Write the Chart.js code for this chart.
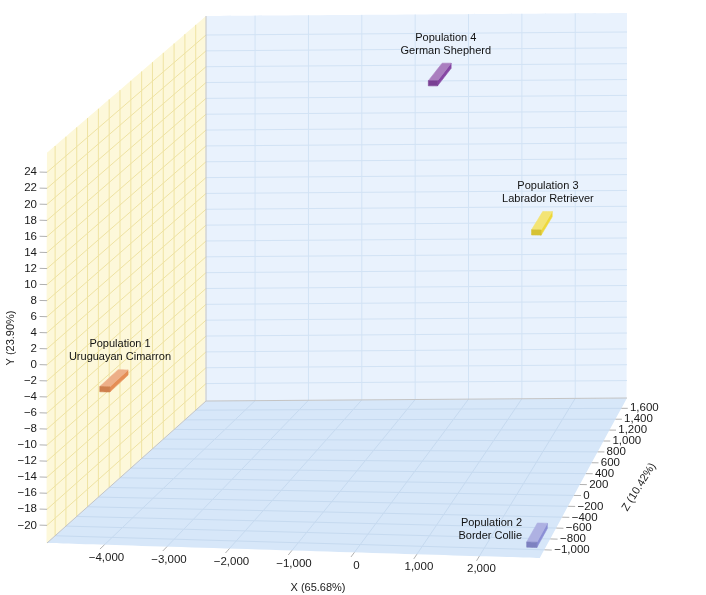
<!DOCTYPE html>
<html lang="en">
<head>
<meta charset="UTF-8">
<title>Dog Populations 3D PCA</title>
<script src="https://cdn.jsdelivr.net/npm/chart.js"></script>
<style>
  html, body { margin: 0; padding: 0; background: #fff; }
  #wrap { width: 706px; height: 595px; position: relative; }
</style>
</head>
<body>
<div id="wrap"><canvas id="pcaChart"></canvas></div>
<script>
// axis ranges and ticks
const xRange = [-4920, 2970];
const yRange = [-22.2, 26.4];
const zRange = [-1150, 1790];
const xTicks = [-4000, -3000, -2000, -1000, 0, 1000, 2000];
const yTicks = [-20, -18, -16, -14, -12, -10, -8, -6, -4, -2, 0, 2, 4, 6, 8, 10, 12, 14, 16, 18, 20, 22, 24];
const zTicks = [-1000, -800, -600, -400, -200, 0, 200, 400, 600, 800, 1000, 1200, 1400, 1600];
const axisTitles = ['X (65.68%)', 'Y (23.90%)', 'Z (10.42%)'];

// populations
const popNames = ['Population 1', 'Population 2', 'Population 3', 'Population 4'];
const popBreeds = ['Uruguayan Cimarron', 'Border Collie', 'Labrador Retriever', 'German Shepherd'];
const popX = [-4300, 2752, 2252, -107];
const popY = [-5.1, -21.8, 9.6, 22.5];
const popZ = [-609, -797, 320, 1202];
const popColors = ['#e58d55', '#8b8fd5', '#eed83a', '#8646a3'];
const labelSide = ['above', 'left', 'above', 'above'];

// where the box sits on screen (floor corners + wall heights), and bar size in data units
const frame = {
  fl: [47, 543], fr: [540, 558], bl: [206, 401], br: [627, 398],
  hFl: 390, hFr: 392, hBack: 385
};
const barSize = { x: 165, y: 0.65, z: 350 };

const lerp = (a, b, t) => a + (b - a) * t;

// simple bilinear "perspective" for the box
function project(x, y, z) {
  const u = (x - xRange[0]) / (xRange[1] - xRange[0]);
  const v = (y - yRange[0]) / (yRange[1] - yRange[0]);
  const w = (z - zRange[0]) / (zRange[1] - zRange[0]);
  const fx = lerp(lerp(frame.fl[0], frame.fr[0], u), lerp(frame.bl[0], frame.br[0], u), w);
  const fy = lerp(lerp(frame.fl[1], frame.fr[1], u), lerp(frame.bl[1], frame.br[1], u), w);
  const h = lerp(lerp(frame.hFl, frame.hFr, u), frame.hBack, w);
  return { x: fx, y: fy - v * h };
}

function shade(hex, target, t) {
  const n = parseInt(hex.slice(1), 16);
  const c = [(n >> 16) & 255, (n >> 8) & 255, n & 255];
  return 'rgb(' + c.map(v => Math.round(v + (target - v) * t)).join(',') + ')';
}

const fmt = v => v.toLocaleString('en-US').replace('-', '\u2212');

const datasets = [];

function addPoly(points, color, order, edge) {
  datasets.push({
    data: points.concat([points[0]]),
    fill: 'shape',
    backgroundColor: color,
    borderColor: edge ? color : 'rgba(0,0,0,0)',
    borderWidth: edge ? 0.6 : 0,
    pointRadius: 0,
    tension: 0.0001,
    order: order
  });
}

function addLines(segs, color, order) {
  const pts = [];
  segs.forEach(s => { pts.push(s[0], s[1], { x: s[1].x, y: null }); });
  datasets.push({
    data: pts,
    fill: false,
    borderColor: color,
    borderWidth: 1,
    pointRadius: 0,
    spanGaps: false,
    order: order
  });
}

const [x0, x1] = xRange, [y0, y1] = yRange, [z0, z1] = zRange;
const xSpan = x1 - x0, zSpan = z1 - z0;

// walls
addPoly([project(x0, y0, z0), project(x1, y0, z0), project(x1, y0, z1), project(x0, y0, z1)], '#d7e7f9', 60);
addPoly([project(x0, y0, z1), project(x1, y0, z1), project(x1, y1, z1), project(x0, y1, z1)], '#e9f2fd', 60);
addPoly([project(x0, y0, z0), project(x0, y0, z1), project(x0, y1, z1), project(x0, y1, z0)], '#fdf8da', 60);

// grids
addLines(xTicks.map(x => [project(x, y0, z0), project(x, y0, z1)])
  .concat(zTicks.map(z => [project(x0, y0, z), project(x1, y0, z)])), '#c6daf0', 50);
addLines(xTicks.map(x => [project(x, y0, z1), project(x, y1, z1)])
  .concat(yTicks.map(y => [project(x0, y, z1), project(x1, y, z1)])), '#d2e3f5', 50);
addLines(zTicks.map(z => [project(x0, y0, z), project(x0, y1, z)])
  .concat(yTicks.map(y => [project(x0, y, z0), project(x0, y, z1)])), '#efe3a2', 50);

// box edges
addLines([
  [project(x0, y0, z1), project(x1, y0, z1)],
  [project(x0, y0, z1), project(x0, y1, z1)],
  [project(x0, y0, z0), project(x0, y0, z1)]
], '#c4c4c4', 40);

// tick marks
addLines(
  xTicks.map(x => [project(x, y0, z0), project(x, y0, z0 - 0.03 * zSpan)])
    .concat(yTicks.map(y => [project(x0 - 0.015 * xSpan, y, z0), project(x0, y, z0)]))
    .concat(zTicks.map(z => [project(x1, y0, z), project(x1 + 0.015 * xSpan, y0, z)])),
  '#b0b0b0', 30);

// population bars (small boxes stretched along Z)
popX.forEach((cx, i) => {
  const hx = barSize.x / 2, hy = barSize.y / 2, hz = barSize.z / 2;
  const c = (a, b, d) => project(cx + a * hx, popY[i] + b * hy, popZ[i] + d * hz);
  const base = popColors[i];
  addPoly([c(1, -1, -1), c(1, -1, 1), c(1, 1, 1), c(1, 1, -1)], base, 12, true);
  addPoly([c(-1, 1, -1), c(1, 1, -1), c(1, 1, 1), c(-1, 1, 1)], shade(base, 255, 0.3), 11, true);
  addPoly([c(-1, -1, -1), c(1, -1, -1), c(1, 1, -1), c(-1, 1, -1)], shade(base, 0, 0.1), 10, true);
});

const textPlugin = {
  id: 'axisText',
  afterDatasetsDraw(chart) {
    const ctx = chart.ctx;
    const sx = chart.scales.x, sy = chart.scales.y;
    const at = p => [sx.getPixelForValue(p.x), sy.getPixelForValue(p.y)];
    ctx.save();
    ctx.font = "11.5px 'Liberation Sans', Arial, sans-serif";
    ctx.fillStyle = '#1a1a1a';
    ctx.textBaseline = 'middle';

    // X tick labels
    ctx.textAlign = 'center';
    xTicks.forEach(x => {
      const [px, py] = at(project(x, y0, z0));
      ctx.fillText(fmt(x), px + 2, py + 13);
    });
    // Y tick labels
    ctx.textAlign = 'right';
    yTicks.forEach(y => {
      const [px, py] = at(project(x0, y, z0));
      ctx.fillText(fmt(y), px - 10, py);
    });
    // Z tick labels
    ctx.textAlign = 'left';
    zTicks.forEach(z => {
      const [px, py] = at(project(x1 + 0.02 * xSpan, y0, z));
      ctx.fillText(fmt(z), px, py);
    });

    // axis titles
    ctx.font = "11px 'Liberation Sans', Arial, sans-serif";
    ctx.textAlign = 'center';
    ctx.fillText(axisTitles[0], 318, 588);
    ctx.save();
    ctx.translate(11, 338);
    ctx.rotate(-Math.PI / 2);
    ctx.fillText(axisTitles[1], 0, 0);
    ctx.restore();
    ctx.save();
    ctx.translate(639, 487);
    ctx.rotate(-58 * Math.PI / 180);
    ctx.fillText(axisTitles[2], 0, 0);
    ctx.restore();

    // population labels
    ctx.fillStyle = '#111';
    popNames.forEach((name, i) => {
      const [px, py] = at(project(popX[i], popY[i], popZ[i]));
      if (labelSide[i] === 'left') {
        ctx.textAlign = 'right';
        ctx.fillText(name, px - 15, py - 12);
        ctx.fillText(popBreeds[i], px - 15, py + 1);
      } else {
        ctx.textAlign = 'center';
        ctx.fillText(name, px + 6, py - 37);
        ctx.fillText(popBreeds[i], px + 6, py - 24);
      }
    });
    ctx.restore();
  }
};

new Chart(document.getElementById('pcaChart'), {
  type: 'line',
  data: { datasets: datasets },
  options: {
    responsive: true,
    maintainAspectRatio: false,
    animation: false,
    events: [],
    layout: { padding: 0 },
    plugins: { legend: { display: false }, tooltip: { enabled: false } },
    scales: {
      x: { type: 'linear', min: 0, max: 706, display: false },
      y: { type: 'linear', min: 0, max: 595, reverse: true, display: false }
    }
  },
  plugins: [textPlugin]
});
</script>
</body>
</html>
